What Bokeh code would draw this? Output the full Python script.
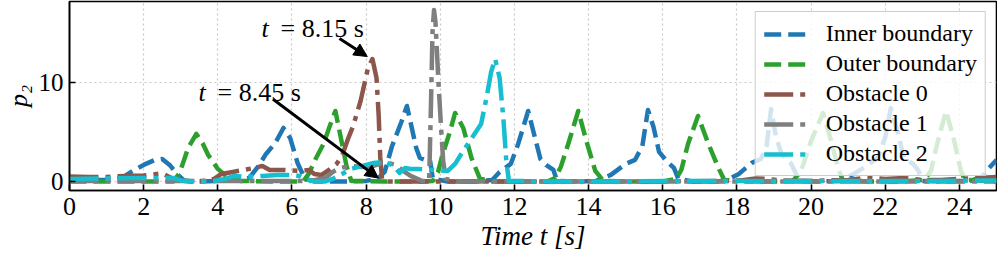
from bokeh.plotting import figure
from bokeh.models import (Range1d, FixedTicker, Legend, LegendItem, Label, Arrow,
                          NormalHead)
from bokeh.embed import file_html
from bokeh.resources import INLINE

# ---------------- data ----------------
inner_t = [0, 0.5, 1.0, 1.3, 1.5, 1.7, 2.0, 2.3, 2.5, 2.7, 2.9, 3.1, 3.5, 4.0, 4.3, 4.6,
           4.85, 5.1, 5.3, 5.55, 5.77, 5.95, 6.15, 6.35, 6.6, 7.0, 7.5, 8.0, 8.3, 8.5,
           8.7, 8.95, 9.1, 9.22, 9.35, 9.45, 9.6, 9.72, 9.8, 10.2, 11.0, 11.4, 11.6,
           11.9, 12.1, 12.37, 12.5, 12.7, 12.85, 13.05, 13.15, 13.6, 14.2, 14.6, 15.0,
           15.25, 15.45, 15.6, 15.75, 15.9, 16.1, 16.3, 16.42, 16.8, 17.5, 17.8, 18.05,
           18.4, 18.65, 18.8, 18.92, 19.05, 19.2, 19.45, 19.6, 19.7, 20.2, 20.8, 21.15,
           21.5, 21.8, 22.0, 22.15, 22.35, 22.5, 22.75, 22.9, 23.0, 23.5, 24.3, 24.6,
           24.8, 25.0]
inner_p = [0.2, 0.2, 0.2, 0.3, 0.6, 1.1, 1.7, 2.2, 2.3, 1.7, 0.8, 0.1, 0.05, 0.1, 0.3, 0.2,
           0.4, 1.6, 2.8, 3.9, 5.4, 4.4, 1.9, 0.3, 0.05, 0.05, 0.05, 0.1, 0.3, 1.0,
           3.6, 6.0, 7.6, 5.6, 3.4, 2.4, 2.2, 2.2, 0.3, 0.05, 0.05, 0.2, 1.0,
           1.8, 3.8, 7.1, 5.2, 2.3, 1.7, 1.2, 0.1, 0.05, 0.1, 0.7, 1.8,
           2.2, 3.6, 7.2, 5.5, 3.0, 2.1, 1.4, 0.3, 0.05, 0.05, 0.3, 0.8,
           1.9, 2.3, 3.6, 7.3, 4.6, 2.8, 1.9, 0.8, 0.1, 0.05, 0.1, 0.8,
           1.6, 2.4, 4.5, 7.4, 4.8, 2.4, 1.8, 1.1, 0.1, 0.05, 0.1, 0.5,
           1.4, 2.2]

outer_t = [0, 1, 2, 2.8, 2.97, 3.2, 3.42, 3.6, 3.74, 4.0, 4.28, 4.6, 5.5, 6.3, 6.45, 6.65,
           6.85, 7.0, 7.17, 7.33, 7.47, 7.6, 8.5, 9.5, 9.8, 9.94, 10.05, 10.24, 10.4,
           10.62, 10.84, 11.06, 11.3, 12.0, 12.9, 13.1, 13.25, 13.45, 13.72, 13.94,
           14.18, 14.4, 15.0, 16.0, 16.36, 16.5, 16.68, 16.95, 17.22, 17.5, 17.66,
           18.5, 19.5, 19.73, 20.0, 20.32, 20.54, 20.73, 20.85, 21.5, 22.5, 23.05,
           23.23, 23.42, 23.64, 23.86, 24.04, 24.15, 25.0]
outer_p = [0.05, 0.05, 0.05, 0.05, 0.9, 3.4, 4.8, 3.8, 2.7, 1.3, 0.4, 0.1, 0.05, 0.05, 0.8, 2.4,
           3.8, 5.4, 7.1, 4.2, 1.6, 0.1, 0.05, 0.05, 0.1, 1.0, 2.6, 4.8, 6.9,
           5.4, 2.4, 0.4, 0.05, 0.05, 0.05, 0.4, 1.5, 3.8, 7.1, 4.1,
           1.1, 0.1, 0.05, 0.05, 0.3, 1.2, 3.8, 6.6, 3.9, 1.4, 0.2,
           0.05, 0.05, 1.1, 4.1, 6.9, 4.1, 1.4, 0.2, 0.05, 0.05, 0.2,
           1.1, 4.1, 7.1, 4.1, 1.1, 0.2, 0.05]

obs0_t = [0, 0.5, 1.0, 1.2, 1.5, 2.0, 2.5, 2.75, 3.0, 3.3, 3.6, 3.9, 4.1, 4.4, 4.7, 5.0,
          5.2, 5.4, 5.8, 6.2, 6.45, 6.6, 6.8, 7.0, 7.2, 7.35, 7.5, 7.65, 7.85, 8.05,
          8.17, 8.28, 8.34, 8.38, 8.43, 8.6, 10, 12, 14, 16, 18.0, 18.5, 18.8, 19.2,
          20.0, 21.0, 21.5, 22.0, 22.5, 23.0, 23.5, 24.0, 24.5, 25.0]
obs0_p = [0.55, 0.5, 0.5, 0.55, 0.6, 0.65, 0.85, 0.4, 0.2, 0.05, 0.1, 0.3, 0.8, 1.0, 1.2, 1.4,
          1.6, 1.2, 1.2, 1.1, 1.2, 0.8, 0.7, 1.2, 1.8, 2.6, 4.2, 5.6, 8.1, 11.4,
          12.3, 10.4, 6.5, 2.5, 0.2, 0.05, 0.05, 0.05, 0.05, 0.05, 0.1, 0.35, 0.3, 0.15,
          0.1, 0.2, 0.4, 0.3, 0.4, 0.2, 0.2, 0.3, 0.4, 0.5]

obs1_t = [0, 3, 6.5, 6.9, 7.1, 7.3, 7.6, 7.9, 8.2, 8.5, 8.8, 9.0, 9.2, 9.5, 9.7, 9.75,
          9.79, 9.83, 9.87, 9.95, 10.02, 10.08, 10.15, 10.5, 12, 25]
obs1_p = [0.1, 0.1, 0.1, 0.4, 1.0, 1.4, 1.6, 1.5, 1.6, 2.0, 1.7, 1.1, 0.6, 0.1, 0.1, 8.0,
          15.0, 17.2, 16.0, 10.0, 5.5, 2.0, 0.3, 0.05, 0.05, 0.05]

obs2_t = [0, 1.0, 2.0, 2.8, 3.0, 3.5, 3.9, 4.2, 4.45, 4.8, 5.2, 5.6, 6.0, 6.2, 6.35, 6.6,
          6.9, 7.1, 7.3, 7.6, 7.9, 8.2, 8.5, 8.75, 8.9, 9.05, 9.2, 9.4, 9.8, 10.2, 10.4,
          10.6, 10.85, 11.1, 11.25, 11.37, 11.48, 11.6, 11.7, 11.78, 11.85, 13, 15, 17,
          19, 21, 23, 25]
obs2_p = [0.3, 0.35, 0.4, 0.4, 0.15, 0.05, 0.1, 0.3, 0.6, 0.5, 0.6, 0.7, 0.7, 0.6, 0.3, 0.05,
          0.05, 0.3, 0.7, 1.3, 1.6, 1.9, 2.0, 1.6, 0.9, 1.4, 1.3, 1.3, 1.2, 1.1, 1.8,
          3.0, 4.4, 5.8, 8.5, 11.0, 12.3, 10.4, 6.4, 2.1, 0.1, 0.05, 0.05, 0.1,
          0.1, 0.1, 0.1, 0.15]

series_names = ["Inner boundary", "Outer boundary", "Obstacle 0", "Obstacle 1", "Obstacle 2"]
x_ticks = [0, 2, 4, 6, 8, 10, 12, 14, 16, 18, 20, 22, 24]
y_ticks = [0, 10]
x_label = "Time t [s]"
y_label = "p\u2082"

# annotation texts and arrows
ann_values = ["= 8.15 s", "= 8.45 s"]
ann_text_x = [5.18, 3.48]
ann_text_y = [15.4, 9.0]
ann_arrow_start = [(7.28, 14.36), (5.49, 8.27)]
ann_arrow_end = [(8.03, 12.55), (8.33, 0.38)]

# ---------------- figure ----------------
FONT = "Liberation Serif"

p = figure(width=996, height=258, output_backend="svg", toolbar_location=None,
           x_range=Range1d(0, 25), y_range=Range1d(-0.86, 18.06),
           min_border_left=68, min_border_right=1, min_border_top=1, min_border_bottom=60)
p.frame_width = 927
p.frame_height = 189
p.outline_line_color = "black"
p.outline_line_width = 1.6
p.outline_line_alpha = 1.0
p.background_fill_color = "white"
p.border_fill_color = "white"

for ax in (p.xaxis, p.yaxis):
    ax.axis_line_color = "black"
    ax.axis_line_width = 1.6
    ax.major_tick_in = 6
    ax.major_tick_out = 0
    ax.major_tick_line_width = 1.6
    ax.minor_tick_line_color = None
    ax.major_label_text_font = FONT
    ax.major_label_text_font_size = "26px"
    ax.major_label_text_color = "black"
    ax.axis_label_text_font = FONT
    ax.axis_label_text_font_size = "27px"
    ax.axis_label_text_color = "black"

p.xaxis.ticker = FixedTicker(ticks=x_ticks)
p.yaxis.ticker = FixedTicker(ticks=y_ticks)
p.xaxis.major_label_standoff = 7
p.yaxis.major_label_standoff = 6
p.yaxis.major_label_text_font_size = "25px"
p.xaxis.axis_label = x_label
p.xaxis.axis_label_standoff = 3
p.yaxis.axis_label = y_label
p.yaxis.axis_label_text_font_style = "italic"
p.yaxis.axis_label_text_font_size = "26px"
p.yaxis.axis_label_standoff = 3

p.xgrid.ticker = FixedTicker(ticks=x_ticks)
p.ygrid.ticker = FixedTicker(ticks=y_ticks)
for g in (p.xgrid, p.ygrid):
    g.grid_line_color = "#c8c8c8"
    g.grid_line_dash = "2 3"
    g.grid_line_width = 1.2

LW = 4.5
DASHED = "17 7"
DASHDOT = "29 7 5 7"
specs = [
    (inner_t, inner_p, "#1f77b4", DASHED),
    (outer_t, outer_p, "#2ca02c", DASHED),
    (obs0_t, obs0_p, "#8c564b", DASHDOT),
    (obs1_t, obs1_p, "#7f7f7f", DASHDOT),
    (obs2_t, obs2_p, "#17becf", DASHDOT),
]
items = []
for (tx, py, col, dash), name in zip(specs, series_names):
    r = p.line(tx, py, line_color=col, line_width=LW, line_dash=dash, line_join="round")
    items.append(LegendItem(label=name, renderers=[r]))

legend = Legend(items=items, location="top_right",
                label_text_font=FONT, label_text_font_size="24px",
                label_text_color="black",
                glyph_width=44, glyph_height=20, label_height=20,
                label_standoff=18, spacing=3, padding=8, margin=10,
                background_fill_color="white", background_fill_alpha=0.8,
                border_line_color="#cccccc", border_line_width=1.5,
                border_line_alpha=1.0)
p.add_layout(legend, "center")

for val, tx, ty, (x0, y0), (x1, y1) in zip(ann_values, ann_text_x, ann_text_y,
                                            ann_arrow_start, ann_arrow_end):
    p.add_layout(Label(x=tx, y=ty, text="t", text_font=FONT, text_font_size="26px",
                       text_font_style="italic", text_color="black",
                       text_baseline="alphabetic"))
    p.add_layout(Label(x=tx, y=ty, x_offset=19, text=val, text_font=FONT,
                       text_font_size="26px", text_color="black",
                       text_baseline="alphabetic"))
    p.add_layout(Arrow(x_start=x0, y_start=y0, x_end=x1, y_end=y1,
                       line_color="black", line_width=3,
                       end=NormalHead(size=13, fill_color="black", line_color="black",
                                      line_width=1)))

open("out.html", "w").write(file_html(p, INLINE))
